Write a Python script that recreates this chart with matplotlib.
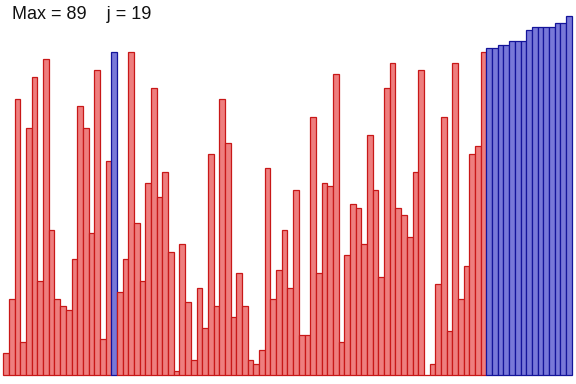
import matplotlib
matplotlib.use("Agg")
import matplotlib.pyplot as plt

# bar heights, left to right (100 bars)
valores = [
    6, 21, 76, 9, 68, 82, 26, 87, 40, 21,
    19, 18, 32, 74, 68, 39, 84, 10, 59, 89,
    23, 32, 89, 42, 26, 53, 79, 49, 56, 34,
    1, 36, 20, 4, 24, 13, 61, 19, 76, 64,
    16, 28, 19, 4, 3, 7, 57, 21, 29, 40,
    24, 51, 11, 11, 71, 28, 53, 52, 83, 9,
    33, 47, 46, 36, 66, 51, 27, 79, 86, 46,
    44, 38, 56, 84, 0, 3, 25, 71, 12, 86,
    21, 30, 61, 63, 89, 90, 90, 91, 91, 92,
    92, 92, 95, 96, 96, 96, 96, 97, 97, 99,
]
maximo = 89
j = 19
ordenado_desde = 85

fig = plt.figure(figsize=(5.76, 3.84), dpi=100)
ax = fig.add_axes([0, 0, 1, 1])

for i, v in enumerate(valores):
    if i == j or i >= ordenado_desde:
        face, edge = "#7878D8", "#14149A"
    else:
        face, edge = "#EE7E7E", "#C81818"
    ax.bar(i, v, width=1, align="edge", color=face, edgecolor=edge, linewidth=0.9)

ax.text(0.02, 0.962, f"Max = {maximo}    j = {j}", transform=ax.transAxes,
        fontsize=13, family=["Liberation Sans", "DejaVu Sans"], ha="left", va="center",
        color="#111111")

ax.set_xlim(-0.58, 100.76)
ax.set_ylim(-2.48, 103.3)
ax.axis("off")

fig.savefig("out.png", dpi=100, facecolor="white")
